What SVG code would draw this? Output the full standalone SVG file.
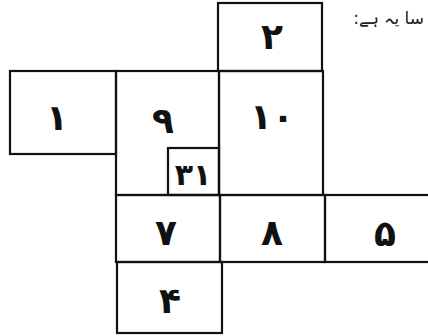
<svg xmlns="http://www.w3.org/2000/svg" width="428" height="336" viewBox="0 0 428 336">
<style>
.b{fill:none;stroke:#111;stroke-width:2.2}
.n{font-family:"DejaVu Sans",sans-serif;font-size:36px;font-weight:bold;fill:#111;text-anchor:middle;dominant-baseline:central}
.t{font-family:"DejaVu Sans",sans-serif;font-size:17px;fill:#222}
</style>
<rect width="428" height="336" fill="#fff"/>
<g id="n2"><rect class="b" x="218" y="3" width="104" height="68"/><text class="n" x="272" y="36">۲</text></g>
<g id="n1"><rect class="b" x="10" y="71" width="106" height="83"/><text class="n" x="57" y="117">۱</text></g>
<g id="n9"><rect class="b" x="116" y="71" width="103" height="124"/><text class="n" x="163" y="120">۹</text></g>
<g id="n10"><rect class="b" x="219" y="71" width="104" height="124"/><text class="n" x="272" y="116">۱۰</text></g>
<g id="n31"><rect class="b" x="168" y="148" width="51" height="47"/><text class="n" x="193" y="174" style="font-size:30px">۳۱</text></g>
<g id="n7"><rect class="b" x="116" y="195" width="104" height="67"/><text class="n" x="166" y="232">۷</text></g>
<g id="n8"><rect class="b" x="220" y="195" width="105" height="67"/><text class="n" x="272" y="232">۸</text></g>
<g id="n5"><rect class="b" x="325" y="195" width="110" height="67"/><text class="n" x="385" y="233">۵</text></g>
<g id="n4"><rect class="b" x="117" y="262" width="105" height="71"/><text class="n" x="170" y="300">۴</text></g>
<g id="connectors"></g>
<text class="t" x="424" y="24" direction="rtl" text-anchor="start">سا یہ ہے:</text>
</svg>
